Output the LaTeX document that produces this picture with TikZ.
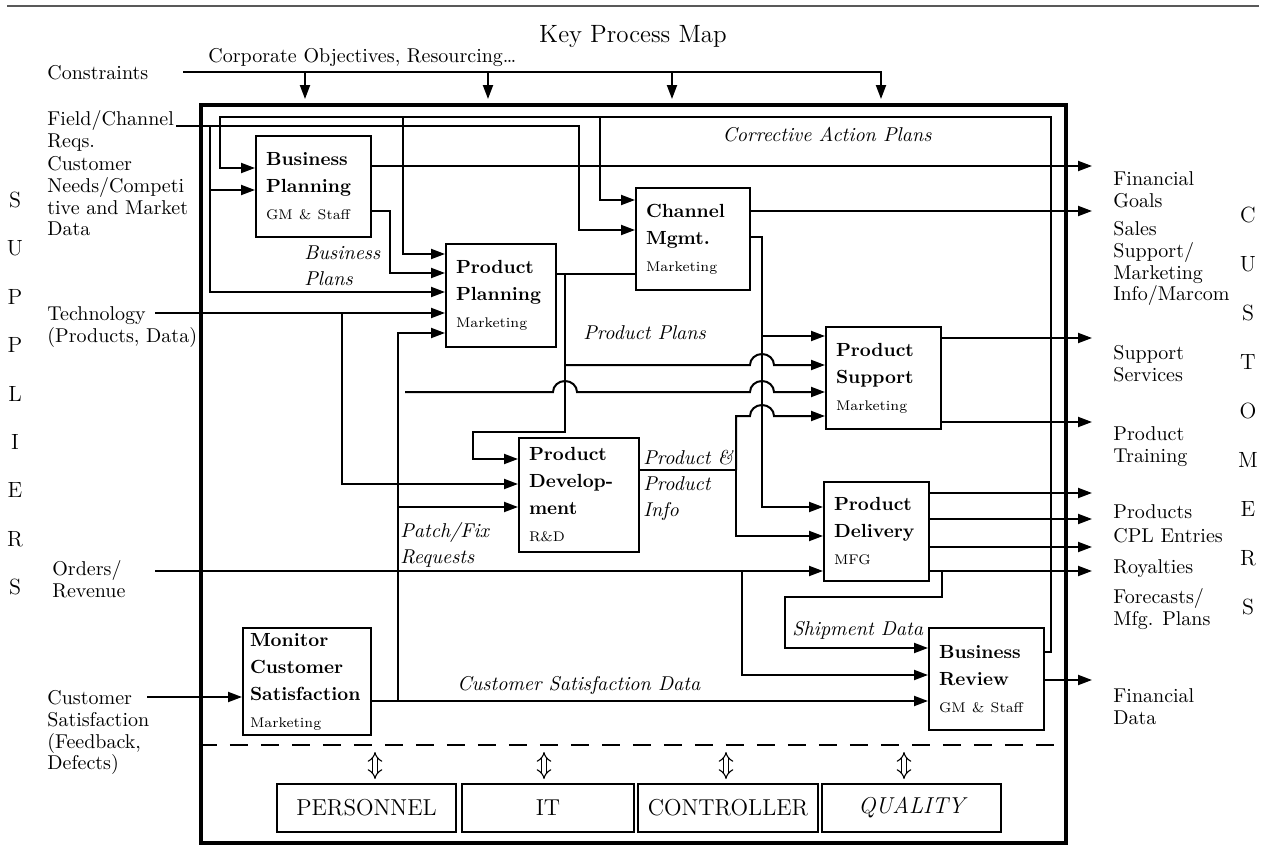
\documentclass[tikz,border=0pt]{standalone}
\usetikzlibrary{arrows.meta}
\newcommand{\dept}[1]{{\normalfont\scriptsize #1}}
\begin{document}
\begin{tikzpicture}[x=0.5pt,y=-0.5pt,
	proc/.style={draw,line width=1pt,align=left,inner xsep=5pt,inner ysep=2pt,font=\fontsize{9.5}{13.5}\selectfont\bfseries},
	staff/.style={draw,line width=1pt,minimum height=24pt,font=\fontsize{11.5}{14}\selectfont},
	lbl/.style={anchor=north west,align=left,inner sep=0pt,font=\fontsize{10}{10.9}\selectfont},
	note/.style={anchor=north west,align=left,inner sep=0pt,font=\fontsize{10}{13}\selectfont\itshape},
	letter/.style={inner sep=0pt,font=\fontsize{11}{13}\selectfont},
	link/.style={line width=1pt},
	flow/.style={link,-{Triangle[length=7pt,width=5pt]}},
	dbl/.style={double,double distance=2pt,line width=0.55pt,{Implies[length=3pt,width=7pt]}-{Implies[length=3pt,width=7pt]}}]
	\useasboundingbox (0,0) rectangle (1266,846);
	\draw[gray!70!black,line width=0.6pt] (7,6) -- (1259,6);
	\node[draw,line width=2.2pt,minimum width=432.5pt,minimum height=369pt,inner sep=0pt] (frame) at (633.5,474) {};
	\draw[link,dash pattern=on 9pt off 6.5pt] (frame.west |- 0,745) -- (frame.east |- 0,745);
	\coordinate (out) at (1092,0);

	% titles and outside labels
	\node (title) at (633,37) {\fontsize{12.5}{15}\selectfont Key Process Map};
	\node[lbl,anchor=west] (corp) at (208,58) {Corporate Objectives, Resourcing\dots};
	\node[lbl,anchor=west] (cons) at (47,73) {Constraints};
	\node[lbl] (field) at (47,110) {Field/Channel\\Reqs.};
	\node[lbl] (needs) at (47,156) {Customer\\Needs/Competi\\tive and Market\\Data};
	\node[lbl] (tech) at (47,306) {Technology\\(Products, Data)};
	\node[lbl] (orders) at (52,560) {Orders/\\Revenue};
	\node[lbl] (csat) at (47,690) {Customer\\Satisfaction\\(Feedback,\\Defects)};
	\node[lbl] (fgoals) at (1113,171) {Financial\\Goals};
	\node[lbl] (sales) at (1113,221) {Sales\\Support/\\Marketing\\Info/Marcom};
	\node[lbl] (supsv) at (1113,345) {Support\\Services};
	\node[lbl] (train) at (1113,426) {Product\\Training};
	\node[lbl,anchor=west] (prods) at (1113,512) {Products};
	\node[lbl,anchor=west] (cpl) at (1113,536) {CPL Entries};
	\node[lbl,anchor=west] (roy) at (1113,569) {Royalties};
	\node[lbl] (fcast) at (1113,588) {Forecasts/\\Mfg. Plans};
	\node[lbl] (fdata) at (1113,688) {Financial\\Data};
	\foreach \l [count=\i from 0] in {S,U,P,P,L,I,E,R,S}
		\node[letter] (sup\i) at (15,200+48.4*\i) {\l};
	\foreach \l [count=\i from 0] in {C,U,S,T,O,M,E,R,S}
		\node[letter] (cus\i) at (1248,215+49*\i) {\l};

	% flow names
	\node[note,anchor=center] (corr) at (827,135) {Corrective Action Plans};
	\node[note] (bplans) at (304,245) {Business\\Plans};
	\node[note,anchor=west] (pplans) at (583,333) {Product Plans};
	\node[note] (patch) at (400,522) {Patch/Fix\\Requests};
	\node[note] (pinfo) at (643,450) {Product \&\\Product\\Info};
	\node[note,anchor=west] (ship) at (792,630) {Shipment Data};
	\node[note,anchor=west] (csdata) at (457,685) {Customer Satisfaction Data};

	% processes
	\node[proc,text width=47.5pt,minimum height=50.5pt] (bp) at (313.5,186.5) {Business\\Planning\\\dept{GM \& Staff}};
	\node[proc,text width=45pt,minimum height=51.5pt] (pp) at (501,295.5) {Product\\Planning\\\dept{Marketing}};
	\node[proc,text width=47pt,minimum height=51pt] (cm) at (693,239) {Channel\\Mgmt.\\\dept{Marketing}};
	\node[proc,text width=47.5pt,minimum height=51pt] (ps) at (883.5,378) {Product\\Support\\\dept{Marketing}};
	\node[proc,text width=50pt,minimum height=57pt] (pd) at (579,495) {Product\\Develop-\\ment\\\dept{R\&D}};
	\node[proc,text width=42.5pt,minimum height=49.5pt] (pdel) at (876.5,531.5) {Product\\Delivery\\\dept{MFG}};
	\node[proc,text width=47.5pt,minimum height=51pt] (br) at (986.5,679) {Business\\Review\\\dept{GM \& Staff}};
	\node[proc,inner xsep=3.5pt,text width=57pt,minimum height=53.5pt] (mcs) at (307,681.5) {Monitor\\Customer\\Satisfaction\\\dept{Marketing}};

	% support functions
	\node[staff,minimum width=89.5pt] (pers) at (366.5,808) {PERSONNEL};
	\node[staff,minimum width=86pt] (it) at (548,808) {IT};
	\node[staff,minimum width=90pt] (ctrl) at (728,808) {CONTROLLER};
	\node[staff,minimum width=89.5pt] (qual) at (911.5,808) {\itshape QUALITY};
	\foreach \b/\x in {pers/375,it/544,ctrl/726,qual/904}
		\draw[dbl,shorten >=2pt] (\x,752) -- (\b.north -| \x,0);

	% constraints
	\draw[flow] (183,72) -| (881,99);
	\foreach \x in {305,488,672}
		\draw[flow] (\x,72) -- (\x,99);

	% corrective action loop
	\draw[flow] (br.east |- 0,652) -| (1051,117) -| (220,168) -- (bp.west |- 0,168);
	\draw[flow] (403,117) |- (pp.west |- 0,254);
	\draw[flow] (600,117) |- (cm.west |- 0,200);

	% inputs
	\draw[flow] (176,126) -| (579,230) -- (cm.west |- 0,230);
	\draw[flow] (210,126) |- (bp.west |- 0,190);
	\draw[flow] (210,190) |- (pp.west |- 0,292);
	\draw[flow] (155,313) -- (pp.west |- 0,313);
	\draw[flow] (342,313) |- (pd.west |- 0,484);
	\draw[flow] (155,571) -- (pdel.west |- 0,571);
	\draw[flow] (742,571) |- (br.west |- 0,675);
	\draw[flow] (147,697) -- (mcs.west |- 0,697);

	% business planning
	\draw[flow] (bp.east |- 0,166) -- (out |- 0,166);
	\draw[flow] (bp.east |- 0,211) -| (390,273) -- (pp.west |- 0,273);

	% product planning
	\draw[link] (pp.east |- 0,274) -- (cm.west |- 0,274);
	\draw[flow] (565,274) |- (473,432) |- (pd.west |- 0,459);
	\draw[flow] (565,365) -- (750,365) arc[start angle=180,end angle=360,x radius=12,y radius=11] -- (ps.west |- 0,365);
	\draw[flow] (405,392) -- (553,392) arc[start angle=180,end angle=360,x radius=12,y radius=11]
		-- (750,392) arc[start angle=180,end angle=360,x radius=12,y radius=11] -- (ps.west |- 0,392);

	% channel management
	\draw[flow] (cm.east |- 0,211) -- (out |- 0,211);
	\draw[flow] (cm.east |- 0,237) -| (762,507) -- (pdel.west |- 0,507);
	\draw[flow] (762,336) -- (ps.west |- 0,336);

	% product development
	\draw[link] (pd.east |- 0,470) -- (736,470);
	\draw[flow] (736,470) |- (750,416) arc[start angle=180,end angle=360,x radius=12,y radius=11] -- (ps.west |- 0,416);
	\draw[flow] (736,470) |- (pdel.west |- 0,536);
	\draw[flow] (398,701) |- (pp.west |- 0,333);
	\draw[flow] (398,507) -- (pd.west |- 0,507);

	% product support and delivery
	\draw[flow] (ps.east |- 0,338) -- (out |- 0,338);
	\draw[flow] (ps.east |- 0,422) -- (out |- 0,422);
	\foreach \y in {493,519,547,571}
		\draw[flow] (pdel.east |- 0,\y) -- (out |- 0,\y);
	\draw[flow] (942,571) -- (942,597) -| (785,648) -- (br.west |- 0,648);

	% monitoring and review
	\draw[flow] (mcs.east |- 0,701) -- (br.west |- 0,701);
	\draw[flow] (br.east |- 0,680) -- (out |- 0,680);
\end{tikzpicture}
\end{document}
